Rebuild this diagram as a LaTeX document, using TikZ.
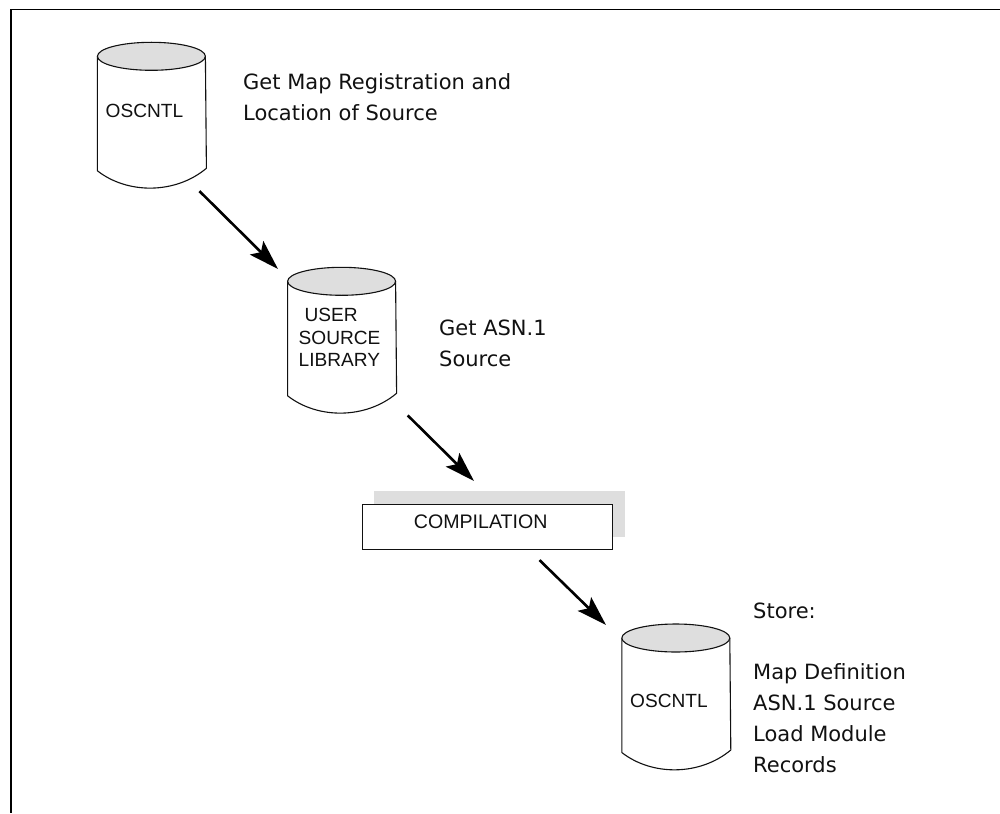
\documentclass[tikz,border=0pt]{standalone}
\usepackage{fontspec}
\setmainfont{DejaVu Sans}
\newfontfamily\arialish{Liberation Sans}
\usetikzlibrary{arrows.meta}
\definecolor{topgrey}{HTML}{DEDEDE}
\definecolor{inkblack}{HTML}{111111}
\tikzset{
  x=1pt,y=-1pt,
  frameline/.style={draw=black,line width=1.4pt},
  cylline/.style={draw=inkblack,line width=1.1pt,line join=round},
  cylbox/.style={inner sep=0pt,minimum width=108pt,minimum height=147pt,anchor=north west},
  lbl/.style={font=\arialish\fontsize{19.1}{22.4}\selectfont,text=inkblack,inner sep=0pt,anchor=base west,align=left},
  note/.style={font=\fontsize{21}{30.8}\selectfont,text=inkblack,inner sep=0pt,anchor=base west,align=left},
  flow/.style={draw=black,line width=2.6pt,-{Stealth[length=30pt,width=19pt,inset=6pt]}},
  procbox/.style={draw=inkblack,line width=1.1pt,fill=white,inner sep=0pt,minimum width=250.4pt,minimum height=45.3pt,anchor=north west},
  shadowbox/.style={fill=topgrey,inner sep=0pt,minimum width=251pt,minimum height=46pt,anchor=north west},
}
\newcommand{\dbcyl}[3]{%
  \node[cylbox] (#1) at (#2,#3) {};
  \draw[cylline,fill=white]
    (#2,#3+14) -- (#2,#3+128.5)
    .. controls (#2+30,#3+152) and (#2+78,#3+152) .. (#2+109,#3+126)
    -- (#2+108,#3+14);
  \draw[cylline,fill=topgrey] (#2+54,#3+14) ellipse [x radius=54,y radius=14];
}
\begin{document}
\begin{tikzpicture}
\useasboundingbox (0,0) rectangle (1000,813);
\coordinate (frameTR) at (1000,9.3);
\coordinate (frameTL) at (11,9.3);
\coordinate (frameBL) at (11,813);
\draw[frameline] (frameTR) -- (frameTL) -- (frameBL);

\dbcyl{dbA}{97.4}{42.3}
\dbcyl{dbB}{287.6}{267.3}
\dbcyl{dbC}{621.8}{624}

\node[lbl] (dbAlabel) at (105.5,117.5) {OSCNTL};
\node[lbl] (dbBlabel) at (298.5,366.7) {\hspace*{6pt}USER\\SOURCE\\LIBRARY};
\node[lbl] (dbClabel) at (630,707.7) {OSCNTL};

\node[shadowbox] (shadow) at (374,490.7) {};
\node[procbox] (comp) at (361.5,503.7) {};
\node[lbl,font=\arialish\fontsize{19.6}{22.4}\selectfont] (complabel) at (413.7,528.3) {COMPILATION};

\node[note] (noteA) at (243,120.7) {Get Map Registration and\\Location of Source};
\node[note] (noteB) at (439,366) {Get ASN.1\\Source};
\node[note] (noteC) at (753,772) {Store:\\[30.8pt]Map Definition\\ASN.1 Source\\Load Module\\Records};

\draw[flow] ([shift={(-6.4,1.4)}]dbA.south east) -- ([shift={(-9.6,1.7)}]dbB.north west);
\draw[flow] ([shift={(11.7,0.7)}]dbB.south east) -- ([shift={(112.5,-22.7)}]comp.north west);
\draw[flow] ([shift={(-73.5,10)}]comp.south east) -- ([shift={(-15.8,1)}]dbC.north west);
\end{tikzpicture}
\end{document}
